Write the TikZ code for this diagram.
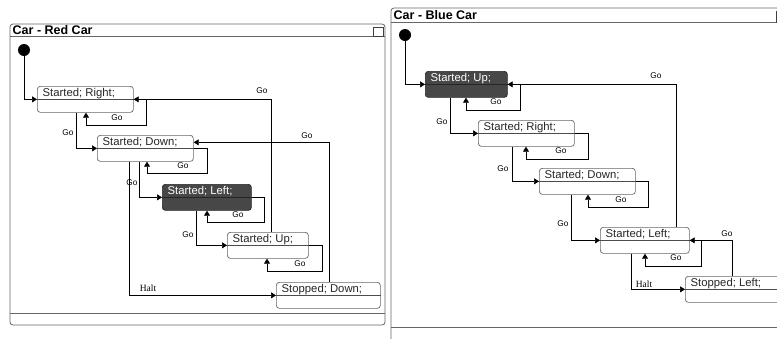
\documentclass[tikz,border=0pt]{standalone}
\usepackage{fontspec}
\setmainfont{Liberation Sans}
\newfontfamily\serifhalt{Liberation Serif}
\usetikzlibrary{arrows.meta}
\newcommand\stbx[7]{%
  \node[stbox,#6,minimum width=#4pt,minimum height=26pt] (#1) at (#2,#3) {};
  \draw[divline,#6] (#1.west) -- (#1.east);
  \node[sttext,text=#7] (#1t) at ([xshift=5.5pt,yshift=-10pt]#1.north west) {#5};}
\begin{document}
\begin{tikzpicture}[x=1pt,y=-1pt,
  stbox/.style={draw=black!60, fill=white, rounded corners=3pt, line width=0.7pt, anchor=north west, inner sep=0pt},
  plain/.style={},
  dark/.style={fill=black!72, draw=black!85},
  divline/.style={draw=black!70, line width=0.6pt},
  sttext/.style={anchor=base west, inner sep=0pt, font=\fontsize{11.3}{11}\selectfont},
  tr/.style={draw=black, line width=0.7pt, -{Triangle[length=5pt,width=6pt]}},
  golab/.style={font=\fontsize{8.3}{9}\selectfont, inner sep=0pt},
  haltlab/.style={font=\serifhalt\fontsize{9.5}{10}\selectfont, inner sep=0pt},
  initdot/.style={circle, fill=black, minimum size=12pt, inner sep=0pt},
  panel/.style={draw=black!60, line width=0.8pt, rounded corners=3pt},
  sep/.style={draw=black!60, line width=0.8pt},
  ttl/.style={font=\bfseries\fontsize{12.5}{13}\selectfont, anchor=west, inner sep=0pt},
]
\useasboundingbox (0,0) rectangle (777,338);
\fill[white] (0,0) rectangle (777,338);
\clip (0,0) rectangle (777,338);

% ---------------- Red car panel ----------------
\draw[panel] (10,24) rectangle (385,325);
\draw[sep] (10,36) -- (385,36);
\draw[sep] (10,313) -- (385,313);
\node[ttl] (rtitle) at (12.5,30.5) {Car - Red Car};
\draw[draw=black!75, line width=0.7pt] (373,27) rectangle (383,36);

\node[initdot] (ri) at (24,50) {};
\stbx{SR}{37}{86}{96}{Started; Right;}{plain}{black!85}
\stbx{SD}{97}{135}{96}{Started; Down;}{plain}{black!85}
\stbx{SL}{162}{184}{89}{Started; Left;}{dark}{white}
\stbx{SU}{227}{232}{81}{Started; Up;}{plain}{black!85}
\stbx{StD}{276}{282}{104}{Stopped; Down;}{plain}{black!85}

\draw[tr] (ri.south) |- (SR.west);
\draw[tr] (SR.east) -| (146,125) -| ([xshift=49pt]SR.south west);
\node[golab] (g1) at (117,118) {Go};
\draw[tr] ([xshift=44pt]SU.north west) |- (SR.east);
\node[golab] (g2) at (262,91) {Go};
\draw[tr] ([xshift=39pt]SR.south west) |- (SD.west);
\node[golab] (g3) at (68,133) {Go};
\draw[tr] (SD.east) -| (207,173) -| ([xshift=50pt]SD.south west);
\node[golab] (g4) at (183,166) {Go};
\draw[tr] ([xshift=42pt]SD.south west) |- (SL.west);
\node[golab] (g5) at (132,183) {Go};
\draw[tr] ([xshift=32pt]SD.south west) |- (StD.west);
\node[haltlab] (h1) at (148,288) {Halt};
\draw[tr] ([xshift=53pt]StD.north west) |- ([yshift=6pt]SD.east);
\node[golab] (g6) at (307,136) {Go};
\draw[tr] (SL.east) -| (264,222) -| ([xshift=45pt]SL.south west);
\node[golab] (g7) at (238,215) {Go};
\draw[tr] ([xshift=34pt]SL.south west) |- (SU.west);
\node[golab] (g8) at (188,235) {Go};
\draw[tr] (SU.east) -| (322,271) -| ([xshift=40pt]SU.south west);
\node[golab] (g9) at (300,264) {Go};

% ---------------- Blue car panel ----------------
\draw[panel] (391,8) rectangle (800,360);
\draw[sep] (391,22) -- (800,22);
\draw[sep] (391,327) -- (800,327);
\node[ttl] (btitle) at (393.5,15) {Car - Blue Car};
\draw[draw=black!75, line width=0.7pt] (776,11) rectangle (786,22);

\node[initdot] (bi) at (405,35) {};
\stbx{BU}{425}{71}{82}{Started; Up;}{dark}{white}
\stbx{BR}{478}{120}{96}{Started; Right;}{plain}{black!85}
\stbx{BD}{539}{168}{96}{Started; Down;}{plain}{black!85}
\stbx{BL}{600}{227}{89}{Started; Left;}{plain}{black!85}
\stbx{BS}{685}{276}{100}{Stopped; Left;}{plain}{black!85}

\draw[tr] (bi.south) |- (BU.west);
\draw[tr] (BU.east) -| (520,110) -| ([xshift=41pt]BU.south west);
\node[golab] (b1) at (496,102) {Go};
\draw[tr] ([xshift=76pt]BL.north west) |- (BU.east);
\node[golab] (b2) at (656,76) {Go};
\draw[tr] ([xshift=25pt]BU.south west) |- (BR.west);
\node[golab] (b3) at (442,122) {Go};
\draw[tr] (BR.east) -| (588,159) -| ([xshift=48pt]BR.south west);
\node[golab] (b4) at (561,151) {Go};
\draw[tr] ([xshift=34pt]BR.south west) |- (BD.west);
\node[golab] (b5) at (503,169) {Go};
\draw[tr] (BD.east) -| (648,207) -| ([xshift=49pt]BD.south west);
\node[golab] (b6) at (621,200) {Go};
\draw[tr] ([xshift=32pt]BD.south west) |- (BL.west);
\node[golab] (b7) at (563,224) {Go};
\draw[tr] (BL.east) -| (701,266) -| ([xshift=45pt]BL.south west);
\node[golab] (b8) at (676,258) {Go};
\draw[tr] ([xshift=31pt]BL.south west) |- (BS.west);
\node[haltlab] (h2) at (644,284) {Halt};
\draw[tr] ([xshift=47pt]BS.north west) |- (BL.east);
\node[golab] (b9) at (727,234) {Go};
\end{tikzpicture}
\end{document}
